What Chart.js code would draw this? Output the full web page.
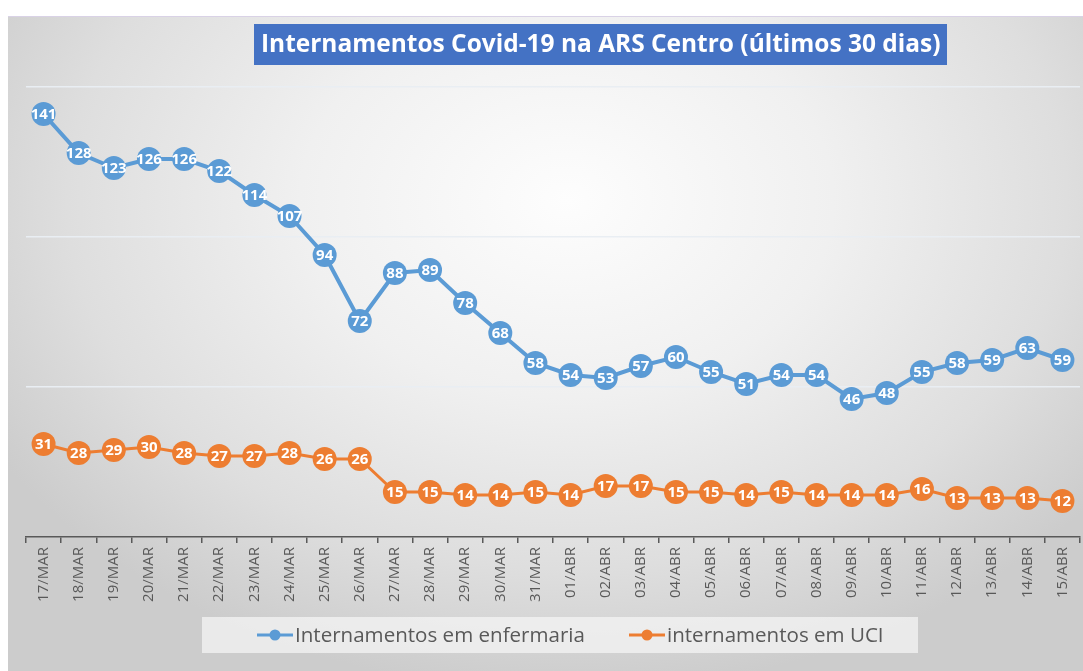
<!DOCTYPE html>
<html lang="pt">
<head>
<meta charset="utf-8">
<title>Internamentos Covid-19 na ARS Centro</title>
<script src="https://cdn.jsdelivr.net/npm/chart.js@4.4.1/dist/chart.umd.min.js"></script>
<style>
  html, body { margin: 0; padding: 0; background: #ffffff; overflow: hidden; }
  #wrap { position: relative; width: 1083px; height: 671px; overflow: hidden; }
  #fundo {
    position: absolute; left: 8px; top: 16px; width: 1075px; height: 655px;
    border-top: 1px solid #d9d2e6;
    background: radial-gradient(ellipse 62% 75% at 52% 28%, #fdfdfd 0%, #f0f0f0 40%, #dedede 75%, #cccccc 100%);
  }
  #grafico { position: absolute; left: 0; top: 0; }
</style>
</head>
<body>
<div id="wrap">
  <div id="fundo"></div>
  <canvas id="grafico" width="1096" height="671"></canvas>
</div>
<script>
  // dados
  const dias = [
    "17/MAR", "18/MAR", "19/MAR", "20/MAR", "21/MAR", "22/MAR", "23/MAR", "24/MAR",
    "25/MAR", "26/MAR", "27/MAR", "28/MAR", "29/MAR", "30/MAR", "31/MAR",
    "01/ABR", "02/ABR", "03/ABR", "04/ABR", "05/ABR", "06/ABR", "07/ABR", "08/ABR",
    "09/ABR", "10/ABR", "11/ABR", "12/ABR", "13/ABR", "14/ABR", "15/ABR"
  ];
  const enfermaria = [141, 128, 123, 126, 126, 122, 114, 107, 94, 72, 88, 89, 78, 68, 58,
    54, 53, 57, 60, 55, 51, 54, 54, 46, 48, 55, 58, 59, 63, 59];
  const uci = [31, 28, 29, 30, 28, 27, 27, 28, 26, 26, 15, 15, 14, 14, 15,
    14, 17, 17, 15, 15, 14, 15, 14, 14, 14, 16, 13, 13, 13, 12];

  const titulo = "Internamentos Covid-19 na ARS Centro (últimos 30 dias)";
  const nomeEnf = "Internamentos em enfermaria";
  const nomeUci = "internamentos em UCI";

  const azul = "#5B9BD5";
  const laranja = "#ED7D31";
  const cinzaTexto = "#595959";
  const fonte = "'Open Sans', 'Noto Sans', sans-serif";

  // ajusta o tamanho da letra para caber numa largura
  function tamanhoPara(ctx, texto, peso, largura) {
    ctx.font = peso + " 100px " + fonte;
    return 100 * largura / ctx.measureText(texto).width;
  }

  // rótulos brancos dentro dos pontos
  const rotulosPontos = {
    id: "rotulosPontos",
    afterDatasetsDraw(chart) {
      const ctx = chart.ctx;
      ctx.save();
      ctx.fillStyle = "#ffffff";
      ctx.textAlign = "center";
      ctx.textBaseline = "middle";
      ctx.font = "bold 15px " + fonte;
      chart.data.datasets.forEach((ds, i) => {
        chart.getDatasetMeta(i).data.forEach((pt, j) => {
          ctx.fillText(String(ds.data[j]), pt.x, pt.y + 1);
        });
      });
      ctx.restore();
    }
  };

  // caixa azul do título e legenda com fundo claro
  const tituloLegenda = {
    id: "tituloLegenda",
    afterDraw(chart) {
      const ctx = chart.ctx;
      ctx.save();

      ctx.fillStyle = "#4472C4";
      ctx.fillRect(254, 24, 693, 41);
      const tt = tamanhoPara(ctx, titulo, "bold", 680);
      ctx.font = "bold " + tt + "px " + fonte;
      ctx.fillStyle = "#ffffff";
      ctx.textAlign = "left";
      ctx.textBaseline = "middle";
      ctx.fillText(titulo, 261, 45);

      ctx.fillStyle = "rgba(244, 244, 244, 0.75)";
      ctx.fillRect(202, 617, 716, 36);

      const itens = [
        { nome: nomeEnf, cor: azul, x: 257 },
        { nome: nomeUci, cor: laranja, x: 629 }
      ];
      const tl = tamanhoPara(ctx, nomeEnf, "normal", 290);
      itens.forEach((it) => {
        ctx.strokeStyle = it.cor;
        ctx.lineWidth = 3;
        ctx.beginPath();
        ctx.moveTo(it.x, 635);
        ctx.lineTo(it.x + 36, 635);
        ctx.stroke();
        ctx.fillStyle = it.cor;
        ctx.beginPath();
        ctx.arc(it.x + 18, 635, 5.5, 0, Math.PI * 2);
        ctx.fill();
        ctx.font = "normal " + tl + "px " + fonte;
        ctx.fillStyle = cinzaTexto;
        ctx.fillText(it.nome, it.x + 38, 636);
      });
      ctx.restore();
    }
  };

  new Chart(document.getElementById("grafico"), {
    type: "line",
    data: {
      labels: dias,
      datasets: [
        {
          label: nomeEnf,
          data: enfermaria,
          borderColor: azul,
          backgroundColor: azul,
          borderWidth: 4,
          pointRadius: 12,
          pointHoverRadius: 12,
          pointBorderWidth: 0,
          tension: 0,
          clip: false
        },
        {
          label: nomeUci,
          data: uci,
          borderColor: laranja,
          backgroundColor: laranja,
          borderWidth: 3,
          pointRadius: 12,
          pointHoverRadius: 12,
          pointBorderWidth: 0,
          tension: 0,
          clip: false
        }
      ]
    },
    options: {
      responsive: false,
      animation: false,
      events: [],
      layout: { padding: { left: 26, right: 16, top: 87, bottom: 0 } },
      plugins: {
        legend: { display: false },
        title: { display: false },
        tooltip: { enabled: false }
      },
      scales: {
        x: {
          offset: true,
          afterFit(scale) { scale.height = 134; },
          grid: {
            offset: true,
            drawOnChartArea: false,
            drawTicks: true,
            tickLength: 6,
            color: cinzaTexto,
            lineWidth: 1.5
          },
          border: { display: true, color: cinzaTexto, width: 1.5 },
          ticks: {
            autoSkip: false,
            minRotation: 90,
            maxRotation: 90,
            padding: 4,
            color: cinzaTexto,
            font: { family: fonte, size: 15 }
          }
        },
        y: {
          min: 0,
          max: 150,
          afterFit(scale) { scale.width = 0; },
          ticks: { display: false, stepSize: 50 },
          border: { display: false },
          grid: {
            drawTicks: false,
            lineWidth: 1.5,
            color: (c) => (c.tick && c.tick.value === 0 ? "rgba(0,0,0,0)" : "#e9eef3")
          }
        }
      }
    },
    plugins: [rotulosPontos, tituloLegenda]
  });
</script>
</body>
</html>
